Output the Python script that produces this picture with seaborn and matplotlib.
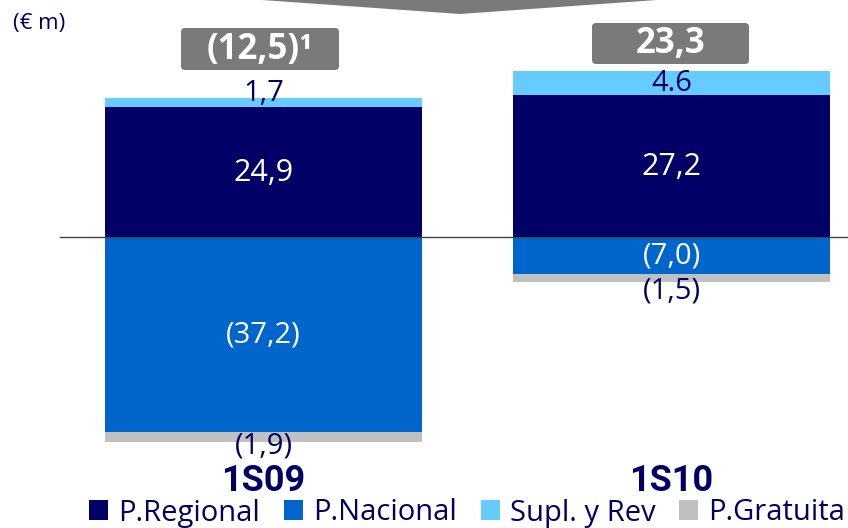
import numpy as np
import matplotlib
matplotlib.use("Agg")
import matplotlib.pyplot as plt
import seaborn as sns
from matplotlib.patches import FancyBboxPatch, Polygon, Patch
from matplotlib.transforms import IdentityTransform

# Data (EUR m)
periods = ["1S09", "1S10"]
regional = [24.9, 27.2]
supl = [1.7, 4.6]
nacional = [-37.2, -7.0]
gratuita = [-1.9, -1.5]

regional_labels = ["24,9", "27,2"]
supl_labels = ["1,7", "4.6"]
nacional_labels = ["(37,2)", "(7,0)"]
gratuita_labels = ["(1,9)", "(1,5)"]
total_labels = ["(12,5)\u00b9", "23,3"]

series_names = ["P.Regional", "P.Nacional", "Supl. y Rev", "P.Gratuita"]
colors = {"P.Regional": "#000066", "P.Nacional": "#0066CC",
          "Supl. y Rev": "#66CCFF", "P.Gratuita": "#C0C0C0"}
navy = "#000066"
grey_box = "#7A7A7A"

sns.set_style("white")
plt.rcParams["font.family"] = ["Open Sans", "DejaVu Sans"]

W, H = 848, 528
fig = plt.figure(figsize=(W / 100, H / 100), dpi=100)
ax = fig.add_axes([0, 0, 1, 1])

# stacked bars: draw cumulative totals first, then the inner segment on top
pos_top = np.array(regional) + np.array(supl)
neg_bot = np.array(nacional) + np.array(gratuita)
bar_w = 0.777
sns.barplot(x=periods, y=pos_top, color=colors["Supl. y Rev"], saturation=1,
            width=bar_w, linewidth=0, ax=ax)
sns.barplot(x=periods, y=regional, color=colors["P.Regional"], saturation=1,
            width=bar_w, linewidth=0, ax=ax)
sns.barplot(x=periods, y=neg_bot, color=colors["P.Gratuita"], saturation=1,
            width=bar_w, linewidth=0, ax=ax)
sns.barplot(x=periods, y=nacional, color=colors["P.Nacional"], saturation=1,
            width=bar_w, linewidth=0, ax=ax)

# map data to pixel layout of the original
k = 5.24          # px per EUR m
zero_px = 237.3   # zero line, px from top
ax.set_ylim(-(H - zero_px) / k, zero_px / k)
ax.set_xlim(-263.5 / 408, 1 + (W - 671.5) / 408)
ax.axis("off")

ax.axhline(0, xmin=60 / W, xmax=1, color="#404040", lw=1, zorder=5)

px = 1 / k  # one pixel in data units
for i in range(len(periods)):
    ax.text(i, regional[i] / 2 - 1 * px, regional_labels[i], color="white",
            fontsize=22, ha="center", va="center", zorder=6)
    ax.text(i, nacional[i] / 2, nacional_labels[i], color="white",
            fontsize=21, ha="center", va="center", zorder=6)
supl_shift = [9, -1]
for i in range(len(periods)):
    ax.text(i, regional[i] + supl[i] / 2 + supl_shift[i] * px, supl_labels[i],
            color=navy, fontsize=21, ha="center", va="center", zorder=6)
grat_shift = [4, 9]
for i in range(len(periods)):
    ax.text(i, neg_bot[i] - grat_shift[i] * px, gratuita_labels[i],
            color=navy, fontsize=21, ha="center", va="center", zorder=6)

# category labels
for i, p in enumerate(periods):
    ax.text(i, 47 / H, p, transform=ax.get_xaxis_transform(), color=navy,
            fontsize=26, fontweight="bold", ha="center", va="center",
            family=["Liberation Sans Narrow", "DejaVu Sans Condensed",
                    "Roboto", "DejaVu Sans"])

# total boxes (pixel layout)
boxes = [(181, 28, 158, 42), (592, 23, 157, 41)]
for (bx, by, bw, bh), lab in zip(boxes, total_labels):
    patch = FancyBboxPatch((bx + 4, H - by - bh + 4), bw - 8, bh - 8,
                           boxstyle="round,pad=4", facecolor=grey_box,
                           edgecolor="none", transform=IdentityTransform())
    fig.add_artist(patch)
    fig.text((bx + bw / 2) / W, 1 - (by + bh / 2 + 1) / H, lab, color="white",
             fontsize=25, fontweight="bold", ha="center", va="center")

# partial arrow at the top
fig.add_artist(Polygon([(262, H), (657, H), (460, H - 14)], closed=True,
                       facecolor=grey_box, edgecolor="none",
                       transform=IdentityTransform()))

fig.text(13 / W, 1 - 23 / H, "(\u20ac m)", color=navy, fontsize=16,
         ha="left", va="center")

handles = [Patch(facecolor=colors[n], edgecolor="none", label=n)
           for n in series_names]
fs = 21
fpx = fs * 100 / 72
ax.legend(handles=handles, ncol=4, frameon=False, fontsize=fs,
          loc="center left", bbox_to_anchor=(89 / W, 15 / H),
          bbox_transform=fig.transFigure, borderpad=0, borderaxespad=0,
          handlelength=19 / fpx, handleheight=20 / fpx,
          handletextpad=10 / fpx, columnspacing=24 / fpx,
          labelcolor=navy)

fig.savefig("out.png", dpi=100)
